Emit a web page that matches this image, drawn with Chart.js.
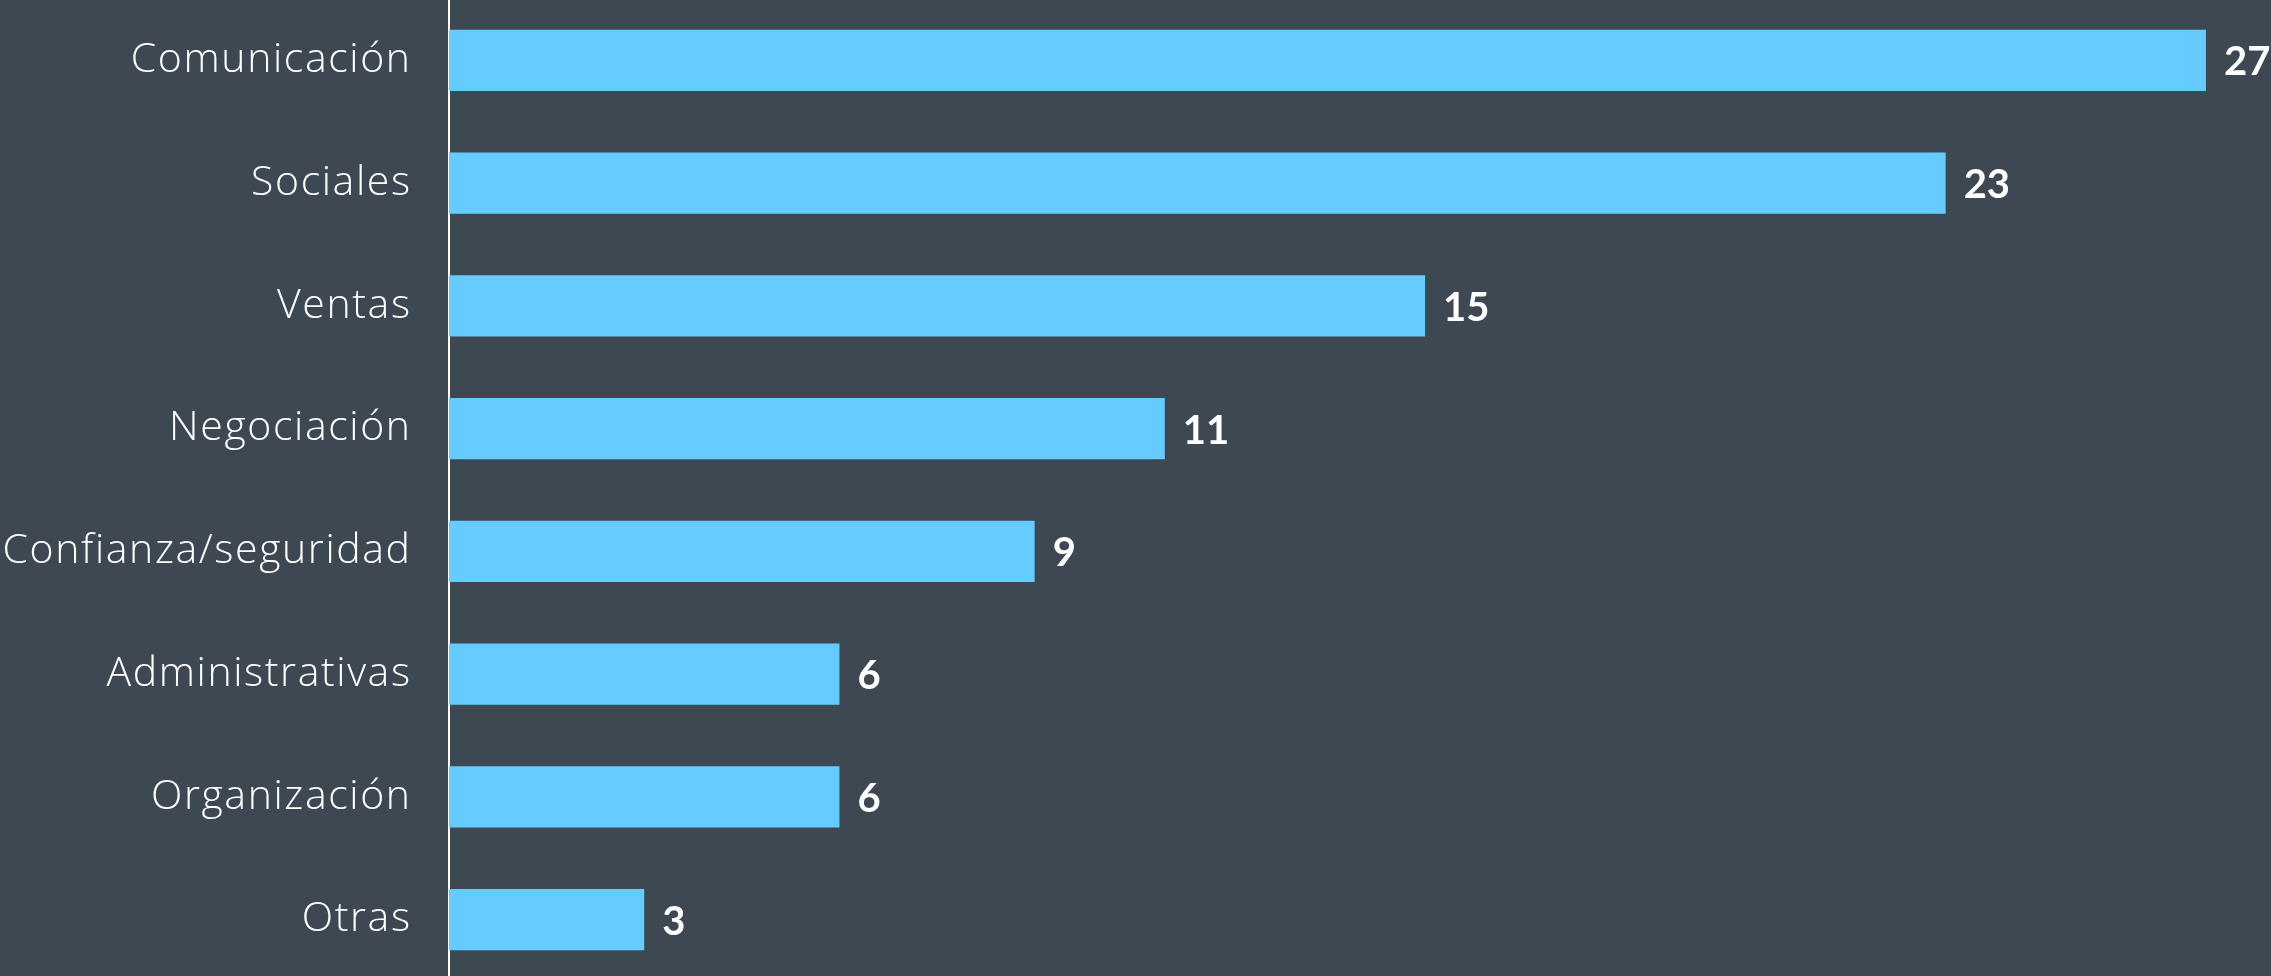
<!DOCTYPE html>
<html>
<head>
<meta charset="utf-8">
<script src="https://cdn.jsdelivr.net/npm/chart.js@4"></script>
<style>
  html, body { margin: 0; padding: 0; background: #3D4852; overflow: hidden; }
  #wrap { width: 2271px; height: 982px; margin-top: -1px; }
  canvas { display: block; }
</style>
</head>
<body>
<div id="wrap"><canvas id="c" width="2271" height="982"></canvas></div>
<script>
// Habilidades mencionadas, de mayor a menor
const categories = [
  'Comunicación', 'Sociales', 'Ventas', 'Negociación',
  'Confianza/seguridad', 'Administrativas', 'Organización', 'Otras'
];
const counts = [27, 23, 15, 11, 9, 6, 6, 3];

const BAR = '#66CCFF';
const TEXT = '#FFFFFF';
const LABEL_FONT = '"Open Sans", Lato, sans-serif';
const VALUE_FONT = 'Lato, "Open Sans", sans-serif';
const LABEL_TRACKING = 1.6;

// Airy tracking for the category names only
const labelTracking = {
  id: 'labelTracking',
  beforeDraw(chart) { chart.ctx.letterSpacing = LABEL_TRACKING + 'px'; },
  beforeDatasetsDraw(chart) { chart.ctx.letterSpacing = '0px'; }
};

// Writes each bar's value just past its end
const valueLabels = {
  id: 'valueLabels',
  afterDatasetsDraw(chart) {
    const ctx = chart.ctx;
    const meta = chart.getDatasetMeta(0);
    ctx.save();
    ctx.letterSpacing = '0px';
    ctx.fillStyle = TEXT;
    ctx.font = 'bold 40px ' + VALUE_FONT;
    ctx.textAlign = 'left';
    ctx.textBaseline = 'middle';
    meta.data.forEach((bar, i) => {
      ctx.fillText(String(counts[i]), bar.x + 18, bar.y + 2);
    });
    ctx.restore();
  }
};

new Chart(document.getElementById('c'), {
  type: 'bar',
  data: {
    labels: categories,
    datasets: [{
      data: counts,
      backgroundColor: BAR,
      borderWidth: 0,
      barPercentage: 0.5,
      categoryPercentage: 1.0
    }]
  },
  options: {
    indexAxis: 'y',
    responsive: false,
    animation: false,
    layout: { padding: 0 },
    plugins: {
      legend: { display: false },
      tooltip: { enabled: false }
    },
    scales: {
      x: {
        display: false,
        min: 0,
        max: 28
      },
      y: {
        afterFit(scale) {
          // fixed label column; bars run the full height of the canvas
          scale.width = 449;
          scale.paddingTop = 0;
          scale.paddingBottom = 0;
        },
        grid: { display: false, drawTicks: false },
        border: { display: true, color: '#FFFFFF', width: 2 },
        ticks: {
          color: TEXT,
          padding: 39 - LABEL_TRACKING,
          font: { family: LABEL_FONT, size: 41, weight: 300 }
        }
      }
    }
  },
  plugins: [labelTracking, valueLabels]
});
</script>
</body>
</html>
